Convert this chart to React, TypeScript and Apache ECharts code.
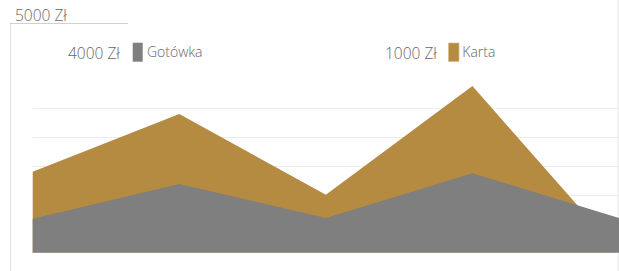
import React, { useEffect, useRef } from "react";
import * as echarts from "echarts";

const categories = ["1", "2", "3", "4", "5"];
const gotowka = [1170, 2375, 1200, 2750, 1200];
const karta = [2800, 4800, 2000, 5770, 0];
const seriesNames = ["Gotówka", "Karta"];
const tickLabels = ["5000 Zł", "4000 Zł", "1000 Zł"];

const GRAY = "#7f7f7f";
const GOLD = "#b58b42";
const TEXT = "#666666";
const FONT = "'Open Sans', sans-serif";
const NUM_FONT = `300 15.5px ${FONT}`;
const NAME_FONT = `300 14px ${FONT}`;

export default function App() {
  const ref = useRef<HTMLDivElement>(null);
  useEffect(() => {
    if (!ref.current) return;
    const chart = echarts.init(ref.current, undefined, { renderer: "svg" });
    chart.setOption({
      animation: false,
      grid: { left: 32.7, right: -0.5, top: 108.3, bottom: 18.5 },
      xAxis: {
        type: "category",
        data: categories,
        boundaryGap: false,
        axisLine: { show: true, lineStyle: { color: "#d9d9d9" } },
        axisTick: { show: false },
        axisLabel: { show: false },
      },
      yAxis: {
        type: "value",
        min: 0,
        max: 5000,
        interval: 1000,
        axisLabel: { show: false },
        axisLine: { show: false },
        splitLine: { lineStyle: { color: "#ececec", width: 1 } },
      },
      series: [
        {
          name: seriesNames[1],
          type: "line",
          data: karta,
          symbol: "none",
          clip: false,
          lineStyle: { width: 0 },
          areaStyle: { color: GOLD, opacity: 1 },
          z: 2,
        },
        {
          name: seriesNames[0],
          type: "line",
          data: gotowka,
          symbol: "none",
          clip: false,
          lineStyle: { width: 0 },
          areaStyle: { color: GRAY, opacity: 1 },
          z: 3,
        },
      ],
      graphic: [
        { type: "line", shape: { x1: 10.5, y1: 23, x2: 10.5, y2: 271 }, style: { stroke: "#e0e0e0", lineWidth: 1 } },
        { type: "line", shape: { x1: 10, y1: 23.5, x2: 128, y2: 23.5 }, style: { stroke: "#d0d0d0", lineWidth: 1 } },
        { type: "line", shape: { x1: 618, y1: 0, x2: 618, y2: 271 }, style: { stroke: "#e6e6e6", lineWidth: 1 } },
        { type: "text", x: 15, y: 14.5, style: { text: tickLabels[0], fill: TEXT, font: NUM_FONT, verticalAlign: "middle" } },
        { type: "text", x: 68, y: 52.5, style: { text: tickLabels[1], fill: TEXT, font: NUM_FONT, verticalAlign: "middle" } },
        { type: "rect", shape: { x: 132.7, y: 42.7, width: 10, height: 19 }, style: { fill: GRAY } },
        { type: "text", x: 147, y: 51.5, style: { text: seriesNames[0], fill: TEXT, font: NAME_FONT, verticalAlign: "middle" } },
        { type: "text", x: 385, y: 52.5, style: { text: tickLabels[2], fill: TEXT, font: NUM_FONT, verticalAlign: "middle" } },
        { type: "rect", shape: { x: 448.5, y: 43, width: 10.5, height: 18.5 }, style: { fill: GOLD, stroke: "#d8bd8a", lineWidth: 0.8 } },
        { type: "text", x: 462.3, y: 51.5, style: { text: seriesNames[1], fill: TEXT, font: NAME_FONT, verticalAlign: "middle" } },
      ],
    });
    return () => chart.dispose();
  }, []);
  return (
    <div
      ref={ref}
      style={{ position: "fixed", left: 0, top: 0, width: 619, height: 271, background: "#fff" }}
    />
  );
}
